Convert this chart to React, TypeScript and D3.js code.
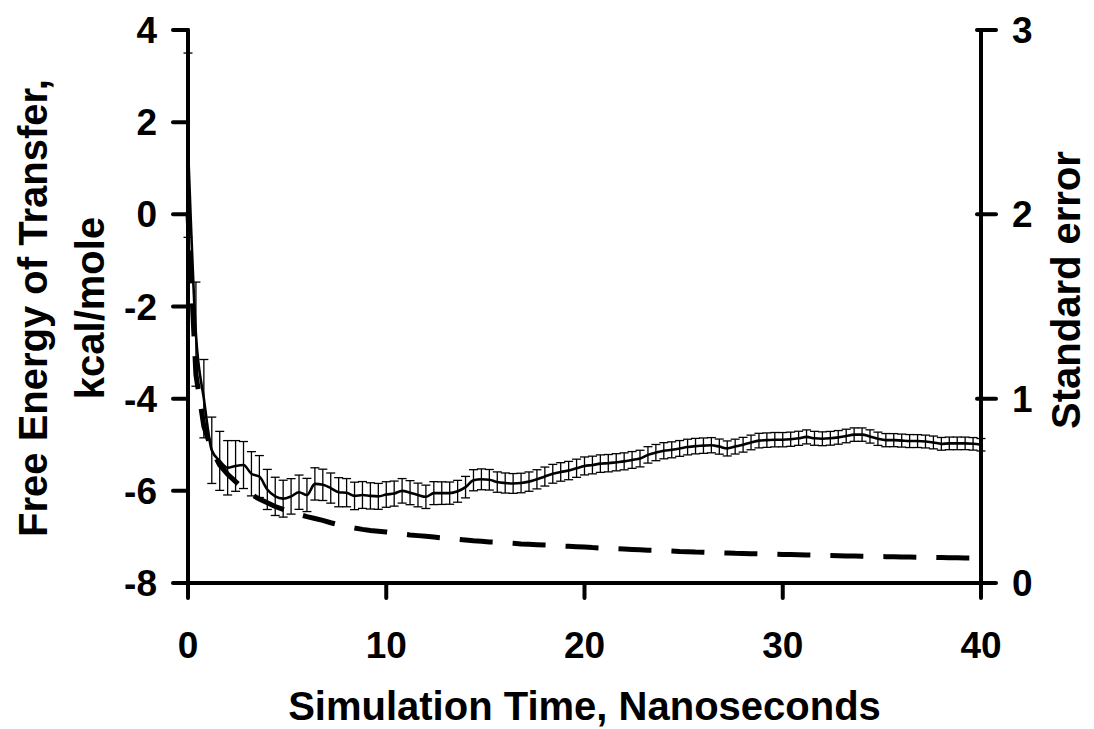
import React from "react";
import * as d3 from "d3";

const timeNs = [
  0, 0.4, 0.8, 1.2, 1.6, 2.0, 2.4, 2.8, 3.2, 3.6, 4.0, 4.4, 4.8, 5.2, 5.6, 6.0, 6.4, 6.8, 7.2, 7.6,
  8.0, 8.4, 8.8, 9.2, 9.6, 10.0, 10.4, 10.8, 11.2, 11.6, 12.0, 12.4, 12.8, 13.2, 13.6, 14.0, 14.4, 14.8, 15.2, 15.6,
  16.0, 16.4, 16.8, 17.2, 17.6, 18.0, 18.4, 18.8, 19.2, 19.6, 20.0, 20.4, 20.8, 21.2, 21.6, 22.0, 22.4, 22.8, 23.2, 23.6,
  24.0, 24.4, 24.8, 25.2, 25.6, 26.0, 26.4, 26.8, 27.2, 27.6, 28.0, 28.4, 28.8, 29.2, 29.6, 30.0, 30.4, 30.8, 31.2, 31.6,
  32.0, 32.4, 32.8, 33.2, 33.6, 34.0, 34.4, 34.8, 35.2, 35.6, 36.0, 36.4, 36.8, 37.2, 37.6, 38.0, 38.4, 38.8, 39.2, 39.6,
  40.0,
];

const freeEnergy = [
  1.5, -2.6, -4.0, -5.12, -5.35, -5.5, -5.46, -5.44, -5.63, -5.69, -5.97, -6.12, -6.17, -6.12, -6.03, -6.09, -5.85, -5.87, -5.94, -6.03,
  -6.04, -6.11, -6.09, -6.11, -6.12, -6.08, -6.06, -6.0, -6.04, -6.09, -6.13, -6.05, -6.05, -6.05, -6.01, -5.92, -5.77, -5.75, -5.76, -5.81,
  -5.83, -5.84, -5.83, -5.8, -5.75, -5.69, -5.63, -5.59, -5.56, -5.51, -5.46, -5.44, -5.41, -5.4, -5.38, -5.36, -5.33, -5.3, -5.22, -5.17,
  -5.13, -5.11, -5.08, -5.05, -5.03, -5.02, -5.01, -5.04, -5.08, -5.04, -5.0, -4.95, -4.91, -4.9, -4.89, -4.89, -4.88, -4.86, -4.83, -4.86,
  -4.87, -4.86, -4.84, -4.81, -4.78, -4.78, -4.82, -4.87, -4.9, -4.9, -4.91, -4.92, -4.92, -4.93, -4.95, -4.98, -4.97, -4.97, -4.97, -4.98,
  -5.0,
];

const stdErr = [
  2.0, 1.13, 0.85, 0.72, 0.64, 0.59, 0.55, 0.51, 0.48, 0.455, 0.435, 0.415, 0.4, 0.385, 0.372, 0.36, 0.35, 0.34, 0.327, 0.316,
  0.306, 0.298, 0.291, 0.285, 0.281, 0.277, 0.272, 0.266, 0.261, 0.257, 0.253, 0.249, 0.245, 0.241, 0.237, 0.233, 0.229, 0.226, 0.223, 0.221,
  0.218, 0.215, 0.212, 0.21, 0.208, 0.206, 0.204, 0.201, 0.199, 0.197, 0.195, 0.192, 0.19, 0.188, 0.186, 0.184, 0.182, 0.18, 0.178, 0.176,
  0.175, 0.173, 0.171, 0.17, 0.168, 0.167, 0.165, 0.164, 0.163, 0.161, 0.16, 0.159, 0.158, 0.157, 0.156, 0.155, 0.154, 0.153, 0.152, 0.151,
  0.15, 0.149, 0.148, 0.147, 0.146, 0.145, 0.144, 0.144, 0.143, 0.142, 0.141, 0.141, 0.14, 0.139, 0.139, 0.138, 0.137, 0.137, 0.136, 0.136,
  0.135,
];

const xTicks = [0, 10, 20, 30, 40];
const yLeftTicks = [4, 2, 0, -2, -4, -6, -8];
const yRightTicks = [3, 2, 1, 0];

const xTitle = "Simulation Time, Nanoseconds";
const yLeftTitle1 = "Free Energy of Transfer,";
const yLeftTitle2 = "kcal/mole";
const yRightTitle = "Standard error";

const W = 1094;
const H = 729;
const FONT = "'Liberation Sans', Arial, Helvetica, sans-serif";
const DASH = 33;
const GAP = 20;

export default function App() {
  const x = d3.scaleLinear().domain([0, 40]).range([188, 981]);
  const yL = d3.scaleLinear().domain([-8, 4]).range([583, 30]);
  const yR = d3.scaleLinear().domain([0, 3]).range([583, 30]);

  const pts = timeNs.map((t, i) => ({ t, v: freeEnergy[i], e: stdErr[i] }));

  const solid = d3
    .line<{ t: number; v: number }>()
    .x((d) => x(d.t))
    .y((d) => yL(d.v))
    .curve(d3.curveMonotoneX)(pts);

  const dashed = d3
    .line<{ t: number; e: number }>()
    .x((d) => x(d.t))
    .y((d) => yR(d.e))(pts);

  // dash phase: make a dash begin near pixel x = 407 as in the reference
  let len = 0;
  for (let i = 1; i < pts.length; i++) {
    const ax = x(pts[i - 1].t), ay = yR(pts[i - 1].e);
    const bx = x(pts[i].t), by = yR(pts[i].e);
    if (bx >= 407) {
      const f = (407 - ax) / (bx - ax);
      len += Math.hypot((bx - ax) * f, (by - ay) * f);
      break;
    }
    len += Math.hypot(bx - ax, by - ay);
  }
  const period = DASH + GAP;
  const dashOffset = (period - (len % period)) % period;

  const [x0, x1] = x.range();
  const yTop = 30;
  const yBot = 583;

  return (
    <svg
      width={W}
      height={H}
      viewBox={`0 0 ${W} ${H}`}
      style={{ position: "absolute", left: 0, top: 0, background: "#fff" }}
      fontFamily={FONT}
      fontWeight="bold"
    >
      <rect x={0} y={0} width={W} height={H} fill="#fff" />

      {/* dashed standard error line (right axis) */}
      <path
        d={dashed || ""}
        fill="none"
        stroke="#000"
        strokeWidth={5}
        strokeDasharray={`${DASH},${GAP}`}
        strokeDashoffset={dashOffset}
      />

      {/* error bars */}
      <g stroke="#000" strokeWidth={1.3}>
        {pts.map((d, i) => {
          const cx = x(d.t);
          const yt = yL(d.v + d.e);
          const yb = yL(d.v - d.e);
          return (
            <g key={i}>
              <line x1={cx} x2={cx} y1={yt} y2={yb} />
              <line x1={cx - 4.5} x2={cx + 4.5} y1={yt} y2={yt} />
              <line x1={cx - 4.5} x2={cx + 4.5} y1={yb} y2={yb} />
            </g>
          );
        })}
      </g>

      {/* solid free energy line */}
      <path d={solid || ""} fill="none" stroke="#000" strokeWidth={2.6} strokeLinejoin="round" />

      {/* axes */}
      <g stroke="#000" strokeWidth={4} strokeLinecap="round">
        <line x1={x0} x2={x0} y1={yTop} y2={yBot} />
        <line x1={x1} x2={x1} y1={yTop} y2={yBot} />
        <line x1={x0} x2={x1} y1={yBot} y2={yBot} />
        {yLeftTicks.map((v) => (
          <line key={"l" + v} x1={x0 - 15} x2={x0} y1={yL(v)} y2={yL(v)} />
        ))}
        {yRightTicks.map((v) => (
          <line key={"r" + v} x1={x1 - 4} x2={x1 + 15} y1={yR(v)} y2={yR(v)} />
        ))}
        {xTicks.map((v) => (
          <line key={"b" + v} x1={x(v)} x2={x(v)} y1={yBot} y2={yBot + 15} />
        ))}
      </g>

      {/* tick labels */}
      <g fontSize={37} fill="#000">
        {yLeftTicks.map((v) => (
          <text key={"lt" + v} x={x0 - 31} y={yL(v) + 13} textAnchor="end">
            {v}
          </text>
        ))}
        {yRightTicks.map((v) => (
          <text key={"rt" + v} x={x1 + 31} y={yR(v) + 13} textAnchor="start">
            {v}
          </text>
        ))}
        {xTicks.map((v) => (
          <text key={"bt" + v} x={x(v)} y={658} textAnchor="middle">
            {v}
          </text>
        ))}
      </g>

      {/* titles */}
      <g fontSize={40} fill="#000">
        <text x={(x0 + x1) / 2} y={720} textAnchor="middle">
          {xTitle}
        </text>
        <text transform={`translate(47,308) rotate(-90)`} textAnchor="middle">
          {yLeftTitle1}
        </text>
        <text transform={`translate(104,308) rotate(-90)`} textAnchor="middle">
          {yLeftTitle2}
        </text>
        <text transform={`translate(1080,290) rotate(-90)`} textAnchor="middle">
          {yRightTitle}
        </text>
      </g>
    </svg>
  );
}
